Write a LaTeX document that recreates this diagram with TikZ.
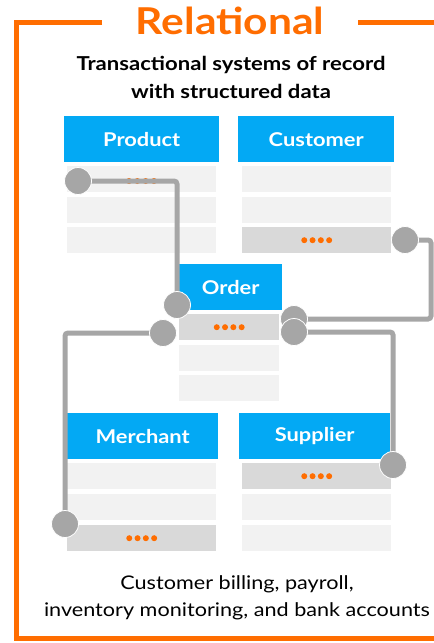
\documentclass[tikz,border=0pt]{standalone}
\usepackage{fontspec}
\setmainfont{Lato}[FakeStretch=1.15]
\usetikzlibrary{calc}
\definecolor{frameorange}{HTML}{FF6D00}
\definecolor{hdrblue}{HTML}{03A9F4}
\definecolor{linkgray}{HTML}{A6A6A6}
\definecolor{rowlight}{HTML}{F2F2F2}
\definecolor{rowdark}{HTML}{D9D9D9}
\tikzset{
  hdr/.style={fill=hdrblue, text=white, font=\bfseries\fontsize{19}{22}\selectfont,
              anchor=north west, inner sep=0pt, minimum height=46pt},
  rowbox/.style={fill=rowlight, anchor=north west, inner sep=0pt, minimum height=26pt},
  keyrow/.style={rowbox, fill=rowdark},
  link/.style={draw=linkgray, line width=5pt, rounded corners=3pt},
  joint/.style={circle, fill=linkgray, draw=white, line width=0.8pt, minimum size=27pt, inner sep=0pt},
  dot/.style={circle, fill=frameorange, minimum size=6pt, inner sep=0pt},
}
% four orange dots marking a key field
\newcommand{\keydots}[1]{%
  \foreach \k in {-1.5,-0.5,0.5,1.5}{\node[dot] at ($(#1)+(\k*8.3,0)$) {};}}
\begin{document}
\begin{tikzpicture}[x=1pt, y=-1pt]
\useasboundingbox (0,0) rectangle (434,643);
\fill[white] (0,0) rectangle (434,643);

% orange frame, open at the top for the title
\draw[frameorange, line width=5pt] (102,22) -- (16.5,22) -- (16.5,638) -- (440,638);
\draw[frameorange, line width=5pt] (358,22) -- (440,22);
\node[text=frameorange, font=\bfseries\fontsize{37}{42}\selectfont] (title) at (230,21) {Relational};

\node[font=\bfseries\fontsize{19.2}{28}\selectfont, align=center] (sub) at (231,77)
  {Transactional systems of record\\with structured data};

% Product
\node[hdr, minimum width=155pt] (prod) at (64,116) {Product};
\node[rowbox, minimum width=149pt] (prod1) at (67,166) {};
\node[rowbox, minimum width=149pt] (prod2) at (67,197) {};
\node[rowbox, minimum width=149pt] (prod3) at (67,227) {};
\coordinate (prodkey) at (141.5,181);
\keydots{prodkey}

% Customer
\node[hdr, minimum width=156pt] (cust) at (238,116) {Customer};
\node[rowbox, minimum width=149pt] (cust1) at (242,166) {};
\node[rowbox, minimum width=149pt] (cust2) at (242,197) {};
\node[keyrow, minimum width=149pt] (cust3) at (242,227) {};
\keydots{cust3.center}

% Order
\node[hdr, minimum width=103pt] (ord) at (179,264) {Order};
\node[keyrow, minimum width=100pt] (ord1) at (179,314) {};
\node[rowbox, minimum width=100pt] (ord2) at (179,345) {};
\node[rowbox, minimum width=100pt] (ord3) at (179,375) {};
\keydots{ord1.center}

% Merchant
\node[hdr, minimum width=151pt] (merc) at (67,413) {Merchant};
\node[rowbox, minimum width=149pt] (merc1) at (67,463) {};
\node[rowbox, minimum width=149pt] (merc2) at (67,494) {};
\node[keyrow, minimum width=149pt] (merc3) at (67,525) {};
\keydots{merc3.center}

% Supplier
\node[hdr, minimum width=151pt] (supp) at (239,413) {Supplier};
\node[keyrow, minimum width=149pt] (supp1) at (242,463) {};
\node[rowbox, minimum width=149pt] (supp2) at (242,494) {};
\node[rowbox, minimum width=149pt] (supp3) at (242,525) {};
\keydots{supp1.center}

% link end points
\coordinate (jp) at (78,181);
\coordinate (jo1) at (177,305);
\coordinate (jc) at (405,240);
\coordinate (jcr) at (431,240);
\coordinate (jo2) at (294,319);
\coordinate (jo3) at (294,332);
\coordinate (js) at (393,465);
\coordinate (jo4) at (163,333);
\coordinate (jm) at (65,524);

% relations
\draw[link] (jp) -| (jo1);
\draw[link] (jc) -- (jcr) |- (jo2);
\draw[link] (jo3) -| (js);
\draw[link] (jo4) -| (jm);

% joints
\foreach \j in {jp,jo1,jc,jo2,jo3,js,jo4,jm}{\node[joint] at (\j) {};}

\node[font=\fontsize{18.8}{27}\selectfont, align=center] (foot) at (237,598)
  {Customer billing, payroll,\\inventory monitoring, and bank accounts};
\end{tikzpicture}
\end{document}
